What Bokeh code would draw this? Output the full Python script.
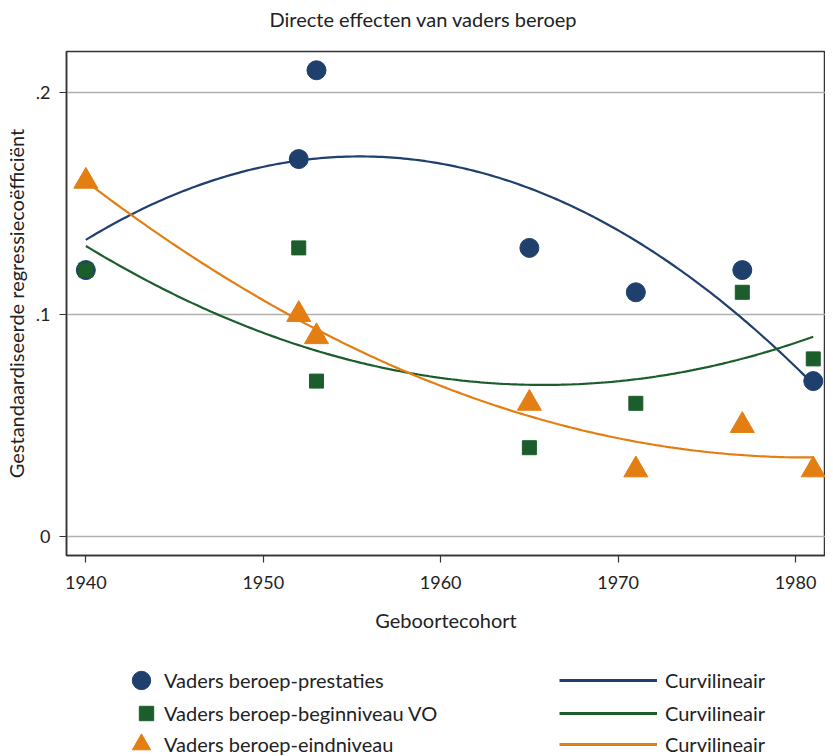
import numpy as np
from bokeh.plotting import figure
from bokeh.layouts import column
from bokeh.models import Range1d, FixedTicker, Legend, LegendItem, Title
from bokeh.embed import file_html
from bokeh.resources import INLINE

# ---- data ----
years = [1940, 1952, 1953, 1965, 1971, 1977, 1981]
prestaties = [0.12, 0.17, 0.21, 0.13, 0.11, 0.12, 0.07]
beginniveau_vo = [0.12, 0.13, 0.07, 0.04, 0.06, 0.11, 0.08]
eindniveau = [0.16, 0.10, 0.09, 0.06, 0.03, 0.05, 0.03]

series_labels = ["Vaders beroep-prestaties", "Vaders beroep-beginniveau VO", "Vaders beroep-eindniveau"]
fit_label = "Curvilineair"

x_ticks = [1940, 1950, 1960, 1970, 1980]
y_ticks = [0, 0.1, 0.2]
y_tick_labels = {0: "0", 0.1: ".1", 0.2: ".2"}

NAVY = "#1f406d"
GREEN = "#1b5e2c"
ORANGE = "#e37e12"
FONT = "Lato"
TXT = "#222222"

p = figure(width=825, height=650, output_backend="svg", toolbar_location=None,
           x_range=Range1d(1938.91, 1981.69), y_range=Range1d(-0.00855, 0.21845),
           min_border_left=61, min_border_right=0, min_border_top=51, min_border_bottom=95,
           title="Directe effecten van vaders beroep")

p.title.align = "left"
p.title.offset = 203
p.title.standoff = 0
p.title.text_font = FONT
p.title.text_font_size = "20px"
p.title.text_font_style = "normal"
p.title.text_color = TXT
# small spacer between title and plot frame
p.add_layout(Title(text=" ", text_font_size="1px", standoff=18), "above")

p.outline_line_color = "#333333"
p.outline_line_width = 1.5

for ax in (p.xaxis[0], p.yaxis[0]):
    ax.axis_line_color = "#333333"
    ax.axis_line_width = 1.5
    ax.major_tick_line_color = "#333333"
    ax.major_tick_line_width = 1.2
    ax.major_tick_out = 7
    ax.major_tick_in = 0
    ax.minor_tick_line_color = None
    ax.major_label_text_font = FONT
    ax.major_label_text_font_size = "18px"
    ax.major_label_text_color = TXT
    ax.axis_label_text_font = FONT
    ax.axis_label_text_font_size = "20px"
    ax.axis_label_text_font_style = "normal"
    ax.axis_label_text_color = TXT

p.xaxis.ticker = FixedTicker(ticks=x_ticks)
p.xaxis.axis_label = "Geboortecohort"
p.xaxis.major_label_standoff = 13
p.xaxis.axis_label_standoff = 16

p.yaxis.ticker = FixedTicker(ticks=y_ticks)
p.yaxis.major_label_overrides = y_tick_labels
p.yaxis.axis_label = "Gestandaardiseerde regressiecoëfficiënt"
p.yaxis.major_label_standoff = 9
p.yaxis.axis_label_standoff = 5

p.xgrid.grid_line_color = None
p.ygrid.ticker = FixedTicker(ticks=y_ticks)
p.ygrid.grid_line_color = "#b0b0b0"
p.ygrid.grid_line_width = 1.5

# quadratic (curvilinear) fits of each series
xs = np.linspace(min(years), max(years), 200)
fit_p = np.polyval(np.polyfit(years, prestaties, 2), xs)
fit_b = np.polyval(np.polyfit(years, beginniveau_vo, 2), xs)
fit_e = np.polyval(np.polyfit(years, eindniveau, 2), xs)

p.line(xs, fit_p, line_color=NAVY, line_width=2.2)
p.line(xs, fit_b, line_color=GREEN, line_width=2.2)
p.line(xs, fit_e, line_color=ORANGE, line_width=2.2)

p.scatter(years, prestaties, marker="circle", size=19, fill_color=NAVY, line_color=NAVY)
p.scatter(years, beginniveau_vo, marker="square", size=14, fill_color=GREEN, line_color=GREEN)
p.scatter(years, eindniveau, marker="triangle", size=24, fill_color=ORANGE, line_color=ORANGE)

# ---- legend panel (separate figure, legend only) ----
lg = figure(width=825, height=106, output_backend="svg", toolbar_location=None,
            x_range=Range1d(0, 1), y_range=Range1d(0, 1),
            x_axis_location=None, y_axis_location=None,
            min_border_left=0, min_border_right=0, min_border_top=0, min_border_bottom=0)
lg.grid.grid_line_color = None
lg.outline_line_color = None

# renderers carry the styles for the legend swatches; their data lie outside this panel's view
r1 = lg.scatter(years, prestaties, marker="circle", fill_color=NAVY, line_color=NAVY)
r2 = lg.scatter(years, beginniveau_vo, marker="square", fill_color=GREEN, line_color=GREEN)
r3 = lg.scatter(years, eindniveau, marker="triangle", fill_color=ORANGE, line_color=ORANGE)
f1 = lg.line(xs, fit_p, line_color=NAVY, line_width=2.8)
f2 = lg.line(xs, fit_b, line_color=GREEN, line_width=2.8)
f3 = lg.line(xs, fit_e, line_color=ORANGE, line_width=2.8)

common = dict(label_text_font=FONT, label_text_font_size="20px", label_text_color=TXT,
              padding=0, margin=0, border_line_color=None, background_fill_alpha=0,
              label_height=20, spacing=0, label_standoff=0)

legend_specs = [
    (series_labels[0], r1, (52, 53), 46, 46),
    (series_labels[1], r2, (62, 25), 36, 36),
    (series_labels[2], r3, (52, -11), 46, 46),
]
for label, rend, loc, gw, gh in legend_specs:
    lg.add_layout(Legend(items=[LegendItem(label=label, renderers=[rend])],
                         location=loc, glyph_width=gw, glyph_height=gh, **common))

fit_specs = [(f1, (493, 53)), (f2, (493, 20)), (f3, (493, -11))]
for rend, loc in fit_specs:
    opts = dict(common)
    opts["label_standoff"] = 8
    lg.add_layout(Legend(items=[LegendItem(label=fit_label, renderers=[rend])],
                         location=loc, glyph_width=98, glyph_height=46, **opts))

layout = column(p, lg, spacing=0)
open("out.html", "w").write(file_html(layout, INLINE))
